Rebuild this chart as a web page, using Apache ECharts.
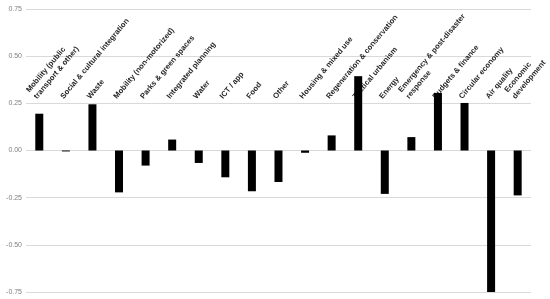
<!DOCTYPE html>
<html>
<head>
<meta charset="utf-8">
<script src="https://cdn.jsdelivr.net/npm/echarts@6/dist/echarts.min.js"></script>
<style>
	html, body { margin: 0; padding: 0; background: #fff; }
	#chart { width: 550px; height: 299px; }
</style>
</head>
<body>
<div id="chart"></div>
<script>
// categories, left to right
var categories = [
	'Mobility (public\ntransport & other)',
	'Social & cultural integration',
	'Waste',
	'Mobility (non-motorized)',
	'Parks & green spaces',
	'Integrated planning',
	'Water',
	'ICT / app',
	'Food',
	'Other',
	'Housing & mixed use',
	'Regeneration & conservation',
	'Tactical urbanism',
	'Energy',
	'Emergency & post-disaster\nresponse',
	'Budgets & finance',
	'Circular economy',
	'Air quality',
	'Economic\ndevelopment'
];
// values
var values = [0.195, -0.005, 0.245, -0.222, -0.08, 0.058, -0.066, -0.142, -0.216, -0.167,
	-0.012, 0.08, 0.394, -0.23, 0.071, 0.305, 0.252, -0.757, -0.238];
// y axis
var yMin = -0.75, yMax = 0.75, yStep = 0.25;

var myChart = echarts.init(document.getElementById('chart'));
var option = {
	animation: false,
	grid: {
		left: 26,
		right: 16,
		top: 9,
		bottom: 7,
		containLabel: false
	},
	xAxis: [{
		type: 'category',
		data: categories,
		axisLine: { show: false },
		axisTick: { show: false },
		axisLabel: { show: false },
		splitLine: { show: false }
	}, {
		// labels sit above the bars, rotated
		type: 'category',
		data: categories,
		position: 'top',
		offset: -92,
		axisLine: { show: false },
		axisTick: { show: false },
		axisLabel: {
			interval: 0,
			rotate: -50,
			margin: 0,
			align: 'left',
			fontFamily: 'Liberation Sans',
			fontWeight: 'bold',
			fontSize: 7.7,
			color: '#262626',
			lineHeight: 10,
			verticalAlign: 'bottom'
		}
	}],
	yAxis: {
		type: 'value',
		min: yMin,
		max: yMax,
		interval: yStep,
		axisLine: { show: false },
		axisTick: { show: false },
		axisLabel: {
			margin: 4,
			fontFamily: 'Liberation Sans',
			fontSize: 7,
			color: '#7f7f7f',
			formatter: function(v) { return v.toFixed(2); }
		},
		splitLine: { lineStyle: { color: '#d9d9d9', width: 1 } }
	},
	series: [{
		type: 'bar',
		xAxisIndex: 0,
		barWidth: 8,
		itemStyle: { color: '#000' },
		data: values
	}]
};
myChart.setOption(option);
</script>
</body>
</html>
